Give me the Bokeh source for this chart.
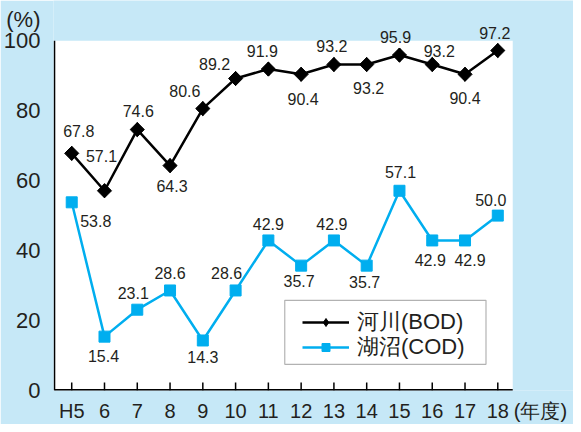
import math
from bokeh.plotting import figure
from bokeh.models import (Range1d, FixedTicker, ColumnDataSource, LabelSet, BoxAnnotation,
                          Legend, LegendItem)
from bokeh.embed import file_html
from bokeh.resources import INLINE
from bokeh.core.properties import value

# ---- data ----
years = ["H5", "6", "7", "8", "9", "10", "11", "12", "13", "14", "15", "16", "17", "18"]
river_bod = [67.8, 57.1, 74.6, 64.3, 80.6, 89.2, 91.9, 90.4, 93.2, 93.2, 95.9, 93.2, 90.4, 97.2]
lake_cod = [53.8, 15.4, 23.1, 28.6, 14.3, 28.6, 42.9, 35.7, 42.9, 35.7, 57.1, 42.9, 42.9, 50.0]
series_names = ["河川(BOD)", "湖沼(COD)"]
y_ticks = [0, 20, 40, 60, 80, 100]
y_unit_label = "(%)"
x_unit_label = "(年度)"

# label placement (screen px offsets from each point)
river_dx = [7, -3, 1, 2, -18, -21, -6, 2, -2, 2, -4, 7, 0, -3]
river_dy = [22, 35, 19, -20, 18, 15, 18, -25, 19, -23, 18, 14, -24, 18]
lake_dx = [24, -1, -4, 0, 0, -9, 0, -2, -2, -2, 1, -2, 5, -7]
lake_dy = [-19, -19, 17, 17, -17, 17, 16, -15, 16, -16, 19, -20, -20, 16]

BG = "#c6e8f7"
TXT = "#231f20"
CYAN = "#00aeef"

# plot-area extent (data units) and outer view
X_LO, X_HI = -0.526, 13.456
Y_LO, Y_HI = 0, 100
Y_UNIT_POS = 106
X_UNIT_POS = 14.3
TICK_LEN = 2.3  # inner x tick length in y units (~8px)
# legend frame (data units)
LEG_L, LEG_R, LEG_B, LEG_T = 6.5, 12.64, 7.48, 25.77

xs = list(range(len(years)))

p = figure(width=573, height=424,
           x_range=Range1d(-0.556, 15.31), y_range=Range1d(0, 111.5),
           output_backend="svg", toolbar_location=None,
           background_fill_color=BG, border_fill_color=BG,
           outline_line_color=None,
           min_border_left=51, min_border_right=0,
           min_border_top=0, min_border_bottom=26)

p.xgrid.visible = False
p.ygrid.visible = False

# white plot area
p.add_layout(BoxAnnotation(left=X_LO, right=X_HI, bottom=Y_LO, top=Y_HI,
                           fill_color="white", fill_alpha=1, line_color=None, level="underlay"))

# axis lines and inner ticks
p.segment(x0=[X_LO, X_LO], y0=[Y_LO, Y_LO], x1=[X_LO, X_HI], y1=[Y_HI, Y_LO],
          line_color="black", line_width=[1.6, 3])
p.segment(x0=xs, y0=[Y_LO] * len(xs), x1=xs, y1=[Y_LO + TICK_LEN] * len(xs),
          line_color="black", line_width=1.5)

xa = p.xaxis[0]
xa.ticker = FixedTicker(ticks=xs + [X_UNIT_POS])
ov = {i: y for i, y in enumerate(years)}
ov[X_UNIT_POS] = x_unit_label
xa.major_label_overrides = ov
xa.major_tick_line_color = None
xa.minor_tick_line_color = None
xa.axis_line_color = None
xa.major_label_text_font = "Liberation Sans"
xa.major_label_text_font_size = "20px"
xa.major_label_text_color = TXT
xa.major_label_standoff = 3

ya = p.yaxis[0]
ya.ticker = FixedTicker(ticks=y_ticks + [Y_UNIT_POS])
ya.major_label_overrides = {Y_UNIT_POS: y_unit_label}
ya.major_tick_line_color = None
ya.minor_tick_line_color = None
ya.axis_line_color = None
ya.major_label_text_font = "Liberation Sans"
ya.major_label_text_font_size = "22px"
ya.major_label_text_color = TXT
ya.major_label_standoff = 7

src_r = ColumnDataSource(dict(x=xs, y=river_bod, t=[f"{v:.1f}" for v in river_bod], dx=river_dx, dy=river_dy))
src_l = ColumnDataSource(dict(x=xs, y=lake_cod, t=[f"{v:.1f}" for v in lake_cod], dx=lake_dx, dy=lake_dy))

r_line = p.line("x", "y", source=src_r, line_color="black", line_width=2.5)
r_dia = p.scatter("x", "y", source=src_r, marker="diamond", size=14,
                  fill_color="black", line_color="black")
p.scatter("x", "y", source=src_r, marker="square", angle=math.pi / 4, size=10,
          fill_color="black", line_color="black")
l_line = p.line("x", "y", source=src_l, line_color=CYAN, line_width=2.5)
l_sq = p.scatter("x", "y", source=src_l, marker="square", size=11,
                 fill_color=CYAN, line_color=CYAN)

for src in (src_r, src_l):
    ls = LabelSet(x="x", y="y", text="t", source=src, x_offset="dx", y_offset="dy",
                  text_align="center", text_baseline="middle",
                  text_font=value("Liberation Sans"), text_font_size="16px", text_color=TXT)
    p.add_layout(ls)

# legend frame
p.add_layout(BoxAnnotation(left=LEG_L, right=LEG_R, bottom=LEG_B, top=LEG_T,
                           fill_color="white", fill_alpha=1,
                           line_color="black", line_width=1.2))

# one legend per row so the rows sit 25px apart
for label, rends, loc in ((series_names[0], [r_line, r_dia], (249, 53.4)),
                          (series_names[1], [l_line, l_sq], (249, 28.4))):
    lg = Legend(items=[LegendItem(label=label, renderers=rends)])
    lg.location = loc
    lg.background_fill_alpha = 0
    lg.border_line_color = None
    lg.padding = 0
    lg.spacing = 0
    lg.margin = 0
    lg.glyph_width = 47
    lg.glyph_height = 20
    lg.label_height = 20
    lg.label_standoff = 8
    lg.label_text_font = "Liberation Sans"
    lg.label_text_font_size = "22px"
    lg.label_text_color = TXT
    p.add_layout(lg)

open("out.html", "w").write(file_html(p, INLINE))
